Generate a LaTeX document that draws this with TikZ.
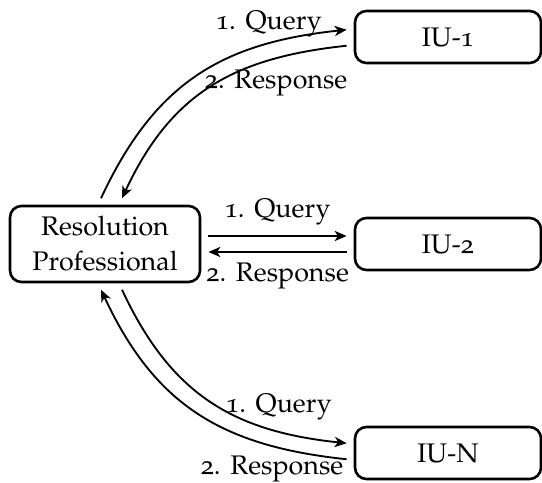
\documentclass[tikz,border=0pt]{standalone}
\usepackage[T1]{fontenc}
\usepackage[osf]{mathpazo}
\usetikzlibrary{arrows.meta,calc}
\begin{document}
\begin{tikzpicture}[x=0.35pt,y=0.35pt,
  font=\fontsize{9.4pt}{12.3pt}\selectfont,
  box/.style={draw, line width=0.9pt, rounded corners=4pt, align=center, inner sep=0pt},
  rpbox/.style={box, minimum width=66.5pt, minimum height=26.6pt},
  iubox/.style={box, minimum width=65.1pt, minimum height=18.2pt},
  arr/.style={-{Stealth[length=4.2pt,width=3.6pt,inset=1.2pt]}, line width=0.65pt, shorten >=2.5pt, shorten <=2.5pt}]
\useasboundingbox (0,0) rectangle (542,482);
\node[rpbox] (rp) at (105,238) {Resolution\\Professional};
\node[iubox] (iu1) at (448,445) {IU-1};
\node[iubox] (iu2) at (448,238) {IU-2};
\node[iubox] (iuN) at (448,29) {IU-N};
% middle
\draw[arr] ($(rp.east)+(0,8)$) -- node[above]{1. Query} ($(iu2.west)+(0,8)$);
\draw[arr] ($(iu2.west)+(0,-8)$) -- node[below]{2. Response} ($(rp.east)+(0,-8)$);
% top
\draw[arr] ($(rp.north)+(-7,0)$) to[out=65,in=186,looseness=1.1] node[pos=0.76,above,yshift=-1pt]{1. Query} ($(iu1.west)+(0,8)$);
\draw[arr] ($(iu1.west)+(0,-8)$) to[out=186,in=65,looseness=1.1] node[pos=0.24,below]{2. Response} ($(rp.north)+(14,0)$);
% bottom
\draw[arr] ($(rp.south)+(14,0)$) to[out=-65,in=174,looseness=1.1] node[pos=0.77,above]{1. Query} ($(iuN.west)+(0,9)$);
\draw[arr] ($(iuN.west)+(0,-7)$) to[out=174,in=-65,looseness=1.1] node[pos=0.23,below]{2. Response} ($(rp.south)+(-7,0)$);
\end{tikzpicture}
\end{document}
